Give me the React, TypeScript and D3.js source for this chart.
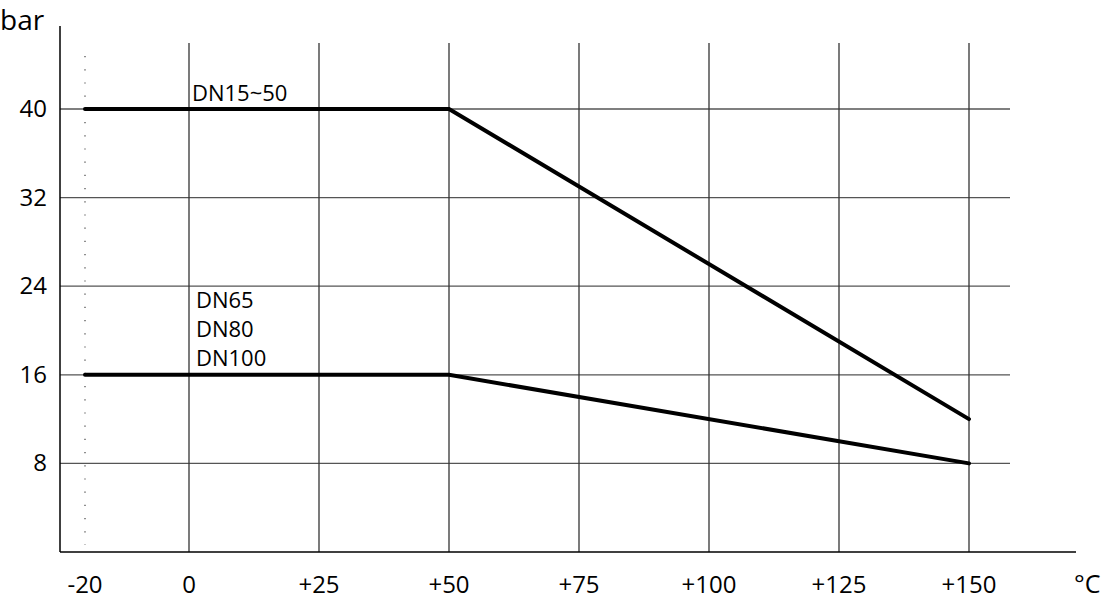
import React, { useEffect, useRef } from 'react';
import * as d3 from 'd3';

interface Pt {
  t: number;
  p: number;
}

const xTicks = [-20, 0, 25, 50, 75, 100, 125, 150];
const xTickLabels = ['-20', '0', '+25', '+50', '+75', '+100', '+125', '+150'];
const yTicks = [8, 16, 24, 32, 40];

const seriesDN15: Pt[] = [
  { t: -20, p: 40 },
  { t: 50, p: 40 },
  { t: 150, p: 12 },
];
const seriesDN65: Pt[] = [
  { t: -20, p: 16 },
  { t: 50, p: 16 },
  { t: 150, p: 8 },
];

const FONT = '"Open Sans", sans-serif';

const App: React.FC = () => {
  const ref = useRef<SVGSVGElement | null>(null);

  useEffect(() => {
    const svg = d3.select(ref.current);
    svg.selectAll('*').remove();

    // pixel positions
    const x = d3.scaleLinear().domain([0, 150]).range([189, 969]);
    const y = d3.scaleLinear().domain([0, 40]).range([552, 109]);

    const g = svg.append('g');

    // horizontal grid
    g.selectAll('.hgrid')
      .data(yTicks)
      .enter()
      .append('line')
      .attr('x1', 60)
      .attr('x2', 1010)
      .attr('y1', (d) => y(d))
      .attr('y2', (d) => y(d))
      .attr('stroke', '#555')
      .attr('stroke-width', 1.3);

    // vertical grid (skip -20, drawn dotted)
    g.selectAll('.vgrid')
      .data(xTicks.filter((d) => d >= 0))
      .enter()
      .append('line')
      .attr('x1', (d) => x(d))
      .attr('x2', (d) => x(d))
      .attr('y1', 43)
      .attr('y2', 552)
      .attr('stroke', '#333')
      .attr('stroke-width', 1.3);

    g.append('line')
      .attr('x1', x(-20))
      .attr('x2', x(-20))
      .attr('y1', 56)
      .attr('y2', 545)
      .attr('stroke', '#444')
      .attr('stroke-width', 1.2)
      .attr('stroke-dasharray', '1.2 12');

    // axes
    g.append('line')
      .attr('x1', 60)
      .attr('x2', 60)
      .attr('y1', 26)
      .attr('y2', 552)
      .attr('stroke', '#000')
      .attr('stroke-width', 1.5);
    g.append('line')
      .attr('x1', 60)
      .attr('x2', 1076)
      .attr('y1', 552)
      .attr('y2', 552)
      .attr('stroke', '#000')
      .attr('stroke-width', 1.5);

    // tick labels
    g.selectAll('.ylab')
      .data(yTicks)
      .enter()
      .append('text')
      .attr('x', 47)
      .attr('y', (d) => y(d) + 8)
      .attr('text-anchor', 'end')
      .attr('font-family', FONT)
      .attr('font-size', 24)
      .text((d) => String(d));

    g.selectAll('.xlab')
      .data(xTicks)
      .enter()
      .append('text')
      .attr('x', (d) => x(d))
      .attr('y', 593)
      .attr('text-anchor', 'middle')
      .attr('font-family', FONT)
      .attr('font-size', 24)
      .text((_, i) => xTickLabels[i]);

    g.append('text')
      .attr('x', 1074)
      .attr('y', 593)
      .attr('font-family', FONT)
      .attr('font-size', 25)
      .text('°C');

    g.append('text')
      .attr('x', 0)
      .attr('y', 30)
      .attr('font-family', FONT)
      .attr('font-size', 28)
      .text('bar');

    // lines
    const line = d3
      .line<Pt>()
      .x((d) => x(d.t))
      .y((d) => y(d.p));

    [seriesDN15, seriesDN65].forEach((s) => {
      g.append('path')
        .datum(s)
        .attr('d', line)
        .attr('fill', 'none')
        .attr('stroke', '#000')
        .attr('stroke-width', 4)
        .attr('stroke-linecap', 'round');
    });

    // labels
    g.append('text')
      .attr('x', 192)
      .attr('y', 101)
      .attr('font-family', FONT)
      .attr('font-size', 22)
      .text('DN15~50');

    ['DN65', 'DN80', 'DN100'].forEach((t, i) => {
      g.append('text')
        .attr('x', 196)
        .attr('y', 308 + i * 29)
        .attr('font-family', FONT)
        .attr('font-size', 22)
        .text(t);
    });
  }, []);

  return (
    <svg
      ref={ref}
      width={1105}
      height={602}
      style={{ position: 'absolute', left: 0, top: 0, background: '#fff' }}
    />
  );
};

export default App;
